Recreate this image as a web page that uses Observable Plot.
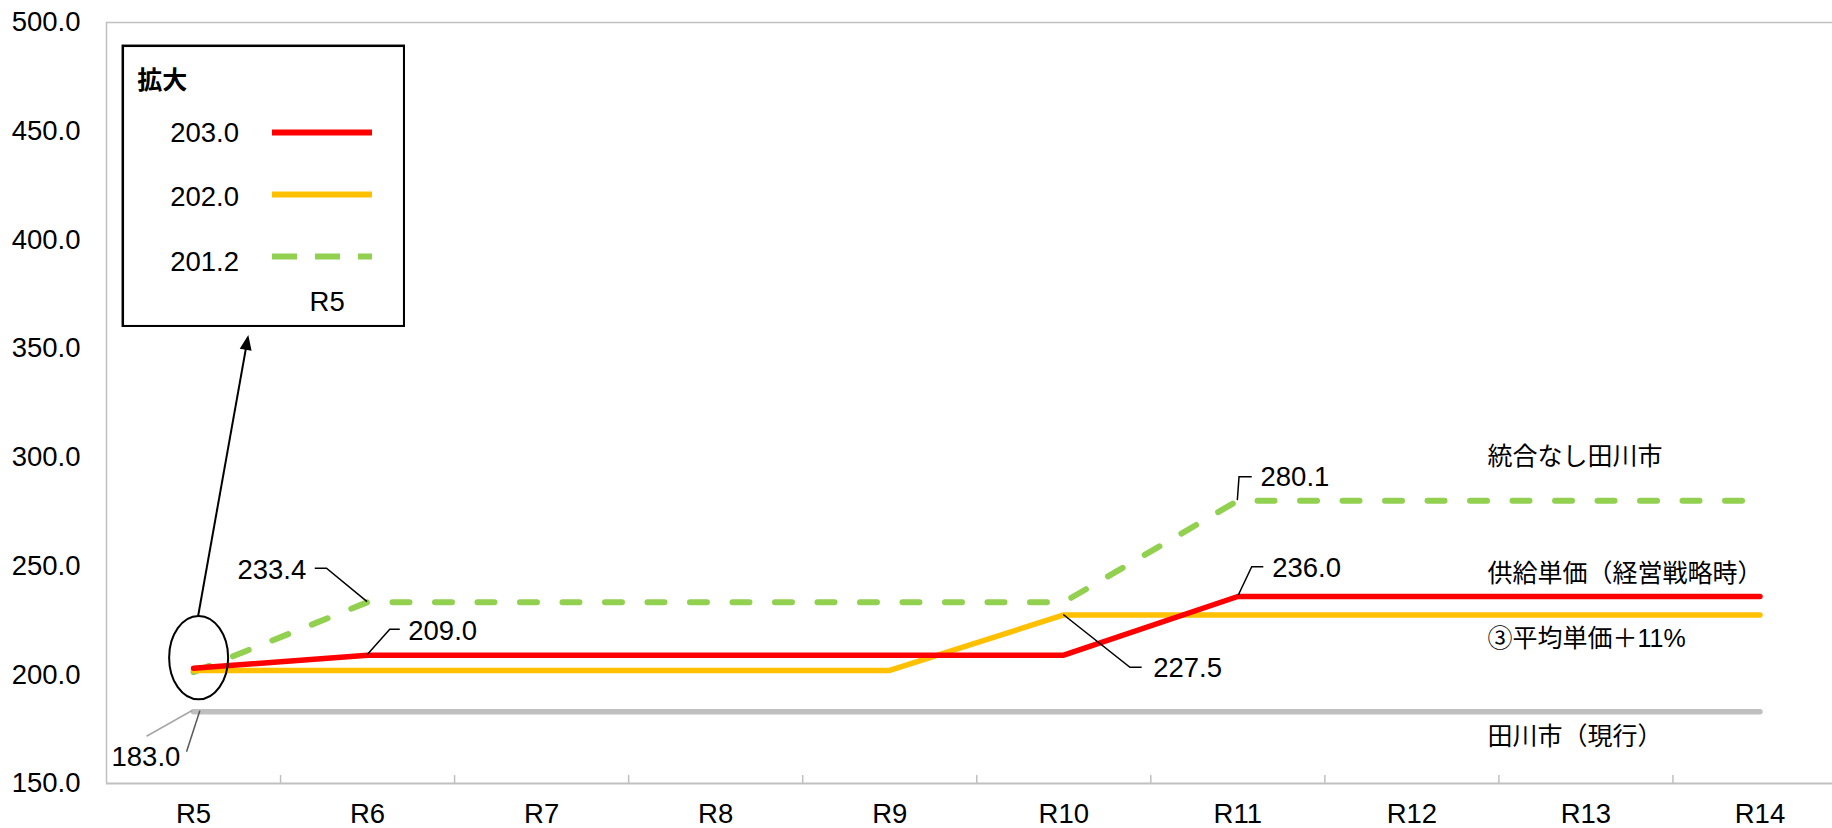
<!DOCTYPE html>
<html>
<head>
<meta charset="utf-8">
<script src="https://cdn.jsdelivr.net/npm/d3@7"></script>
<script src="https://cdn.jsdelivr.net/npm/@observablehq/plot@0.6"></script>
<style>
  body { margin: 0; background: #fff; }
  #wrap { position: relative; width: 1832px; height: 828px; }
  #inset { position: absolute; left: 121px; top: 44px; }
</style>
</head>
<body>
<div id="wrap"><div id="main"></div><div id="inset"></div></div>
<script>
// ---- data ----
const categories = ["R5", "R6", "R7", "R8", "R9", "R10", "R11", "R12", "R13", "R14"];
const supplyPrice     = [203.0, 209.0, 209.0, 209.0, 209.0, 209.0, 236.0, 236.0, 236.0, 236.0];
const avgPricePlus11  = [202.0, 202.0, 202.0, 202.0, 202.0, 227.5, 227.5, 227.5, 227.5, 227.5];
const noMergeTagawa   = [201.2, 233.4, 233.4, 233.4, 233.4, 233.4, 280.1, 280.1, 280.1, 280.1];
const tagawaCurrent   = [183.0, 183.0, 183.0, 183.0, 183.0, 183.0, 183.0, 183.0, 183.0, 183.0];
const seriesNames = ["供給単価（経営戦略時）", "③平均単価＋11%", "統合なし田川市", "田川市（現行）"];
const yTicks = [150, 200, 250, 300, 350, 400, 450, 500];
const insetTitle = "拡大";
const insetValues = [203.0, 202.0, 201.2];

// ---- styles ----
const FONT = "'Liberation Sans', Arial, 'Noto Sans CJK JP', sans-serif";
const C = {red: "#ff0000", yellow: "#ffc000", green: "#92d050", gray: "#bfbfbf", axis: "#c0c0c0"};
const GREEN_DASH = "17,25.5";

const series = [
  {name: seriesNames[3], values: tagawaCurrent,  color: C.gray,   width: 5.5, dash: null, labelDy: 25.5},
  {name: seriesNames[2], values: noMergeTagawa,  color: C.green,  width: 6,   dash: GREEN_DASH, labelDy: -43.5},
  {name: seriesNames[1], values: avgPricePlus11, color: C.yellow, width: 5.5, dash: null, labelDy: 23.8},
  {name: seriesNames[0], values: supplyPrice,    color: C.red,    width: 5.5, dash: null, labelDy: -22.7}
];
const pos = (i) => i + 0.5; // category index -> band centre on the linear x scale

// value labels with leader lines (offsets in px from the data point)
const valueLabels = [
  {i: 1, v: noMergeTagawa[1],  anchor: "end",   dx: -61.3, dy: -31.7, pts: [[0,0],[-40.6,-33.4],[-52.3,-33.4]], lc: "#000"},
  {i: 1, v: supplyPrice[1],    anchor: "start", dx: 40.7,  dy: -23.7, pts: [[0,0],[22.7,-25.4],[32.7,-25.4]], lc: "#000"},
  {i: 5, v: avgPricePlus11[5], anchor: "start", dx: 89.4,  dy: 52.8,  pts: [[0,0],[66.7,52.8],[78.4,52.8]], lc: "#000"},
  {i: 6, v: noMergeTagawa[6],  anchor: "start", dx: 22.7,  dy: -23.5, pts: [[0,0],[1.7,-23.5],[14.4,-23.5]], lc: "#000"},
  {i: 6, v: supplyPrice[6],    anchor: "start", dx: 34.4,  dy: -28,   pts: [[1,-1],[14.4,-29.3],[26,-29.3]], lc: "#000"},
  {i: 0, v: tagawaCurrent[0],  anchor: "end",   dx: -13.2, dy: 45.5,  pts: [[-0.5,-1],[-46.5,25]], lc: "#a6a6a6"}
];
const extraLeaders = [
  {i: 0, v: tagawaCurrent[0], pts: [[6.8,-0.5],[-6.5,40.5]], lc: "#595959"}
];
const ARROW_TIP = [248.3, 335];

function annotationMark(index, scales) {
  const X = (i) => scales.x(pos(i)), Y = (v) => scales.y(v);
  const g = d3.create("svg:g").attr("fill", "none");
  for (const L of [...valueLabels, ...extraLeaders]) {
    const x0 = X(L.i), y0 = Y(L.v);
    g.append("path")
      .attr("d", "M" + L.pts.map(([dx, dy]) => `${x0 + dx},${y0 + dy}`).join("L"))
      .attr("stroke", L.lc).attr("stroke-width", 1.5);
  }
  // ellipse around R5 points
  const cx = X(0) + 5.6, cy = Y(supplyPrice[0]) - 10.1, rx = 29.5, ry = 41.7;
  g.append("ellipse").attr("cx", cx).attr("cy", cy).attr("rx", rx).attr("ry", ry)
    .attr("stroke", "#000").attr("stroke-width", 2);
  // arrow to the magnified box
  const sx = cx - 0.5, sy = cy - ry;
  const [tx, ty] = ARROW_TIP;
  const len = Math.hypot(tx - sx, ty - sy), ux = (tx - sx) / len, uy = (ty - sy) / len;
  const nx = -uy, ny = ux, hl = 15, hw = 6;
  g.append("line").attr("x1", sx).attr("y1", sy).attr("x2", tx - ux * 10).attr("y2", ty - uy * 10)
    .attr("stroke", "#000").attr("stroke-width", 2);
  g.append("path")
    .attr("d", `M${tx},${ty}L${tx - ux * hl + nx * hw},${ty - uy * hl + ny * hw}L${tx - ux * hl - nx * hw},${ty - uy * hl - ny * hw}Z`)
    .attr("fill", "#000");
  return g.node();
}

const lineMarks = series.map(s => Plot.line(s.values.map((v, i) => ({i, v})), {
  x: d => pos(d.i), y: "v", stroke: s.color, strokeWidth: s.width,
  strokeLinecap: "round", strokeLinejoin: "round", strokeDasharray: s.dash
}));

const nameMarks = series.map(s => Plot.text([{i: categories.length - 1, v: s.values[s.values.length - 1]}], {
  x: d => pos(d.i), y: "v", text: () => s.name, textAnchor: "start",
  dx: -272.5, dy: s.labelDy, fontSize: 25, fill: "#000"
}));

const valueMarks = valueLabels.map(L => Plot.text([L], {
  x: d => pos(d.i), y: "v", text: d => d.v.toFixed(1), textAnchor: L.anchor,
  dx: L.dx, dy: L.dy, fontSize: 27.5, fill: "#000"
}));

const main = Plot.plot({
  width: 1832, height: 828,
  marginLeft: 106, marginRight: 0, marginTop: 22, marginBottom: 45,
  style: {fontFamily: FONT, fontSize: "27.5px", color: "#000", background: "#fff"},
  x: {type: "linear", domain: [0, categories.length], range: [106, 1846.5], label: null},
  y: {domain: [yTicks[0], yTicks[yTicks.length - 1]], label: null},
  marks: [
    Plot.ruleX([0], {stroke: C.axis, strokeWidth: 1.5}),
    Plot.ruleY([yTicks[yTicks.length - 1]], {stroke: C.axis, strokeWidth: 1.5}),
    Plot.ruleY([yTicks[0]], {stroke: C.axis, strokeWidth: 2}),
    Plot.axisX({ticks: d3.range(1, categories.length), tickSize: -8, tickFormat: () => "", stroke: C.axis, strokeWidth: 1.5}),
    Plot.axisX({ticks: categories.map((c, i) => pos(i)), tickFormat: d => categories[Math.round(d - 0.5)],
      tickSize: 0, tickPadding: 19.5, fontSize: 27.5, label: null}),
    Plot.axisY({ticks: yTicks, tickFormat: d => d.toFixed(1), tickSize: 0, tickPadding: 26, fontSize: 27.5, label: null}),
    ...lineMarks,
    annotationMark,
    ...valueMarks,
    ...nameMarks
  ]
});
document.getElementById("main").appendChild(main);

// ---- magnified inset ----
const insetStyles = [
  {color: C.red, dash: null, textDy: 1},
  {color: C.yellow, dash: null, textDy: 3},
  {color: C.green, dash: "25,18", textDy: 6}
];
const insetRows = insetValues.map((v, k) => ({cat: categories[0], label: v.toFixed(1)}));
const inset = Plot.plot({
  width: 284, height: 283, marginTop: 0, marginRight: 0, marginBottom: 0, marginLeft: 0,
  style: {fontFamily: FONT, fontSize: "27.5px", color: "#000", background: "#fff"},
  x: {type: "band", domain: [categories[0]], range: [151, 251.7], padding: 0, axis: null},
  y: {type: "point", domain: insetRows.map(d => d.label), range: [86.7, 212.7], padding: 0, axis: null},
  marks: [
    Plot.frame({stroke: "#000", strokeWidth: 2.5, inset: 1.3}),
    ...insetRows.map((r, k) => Plot.tickY([r], {x: "cat", y: "label", stroke: insetStyles[k].color,
      strokeWidth: 6, strokeDasharray: insetStyles[k].dash})),
    ...insetRows.map((r, k) => Plot.text([r], {x: "cat", y: "label", text: "label", textAnchor: "end",
      dx: -83.5, dy: insetStyles[k].textDy, fontSize: 27.5, fill: "#000"})),
    Plot.text([insetTitle], {frameAnchor: "top-left", textAnchor: "start", lineAnchor: "middle",
      dx: 15.7, dy: 36, fontSize: 25, fontWeight: "bold", fill: "#000"}),
    Plot.text([categories[0]], {x: d => d, frameAnchor: "bottom", lineAnchor: "middle",
      dy: -25.3, dx: 4.6, fontSize: 27.5, fill: "#000"})
  ]
});
document.getElementById("inset").appendChild(inset);
</script>
</body>
</html>
